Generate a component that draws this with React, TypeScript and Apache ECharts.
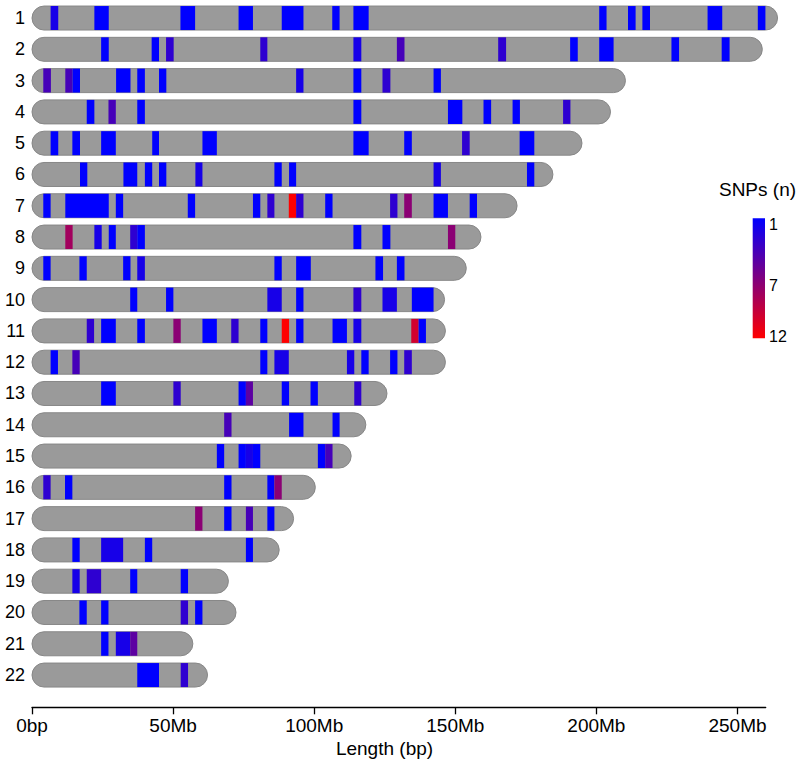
import React, { useEffect, useRef } from "react";
import * as echarts from "echarts";

// ---- data (Mb) ----
const chromosomes = ["1","2","3","4","5","6","7","8","9","10","11","12","13","14","15","16","17","18","19","20","21","22"];
const chromLengths = [264.2, 258.8, 210.3, 205.0, 194.9, 184.6, 171.9, 159.1, 153.9, 146.2, 146.5, 146.5, 125.8, 118.3, 113.1, 100.4, 92.7, 87.6, 69.6, 72.3, 57.0, 62.2];

// [start Mb, end Mb, SNPs (n)]
const chr1Bands = [[6.6,9.3,2],[22.1,27.2,1],[52.6,57.8,1],[73.2,78.3,1],[88.5,96.2,1],[106.4,109.0,1],[113.9,119.3,1],[201.0,203.6,1],[211.2,213.9,1],[216.3,219.0,1],[239.4,244.6,1],[257.2,259.9,1]];
const chr2Bands = [[24.5,27.2,1],[42.4,45.0,1],[47.5,50.2,3],[80.9,83.4,3],[113.9,116.7,2],[129.3,132.0,4],[165.2,168.0,3],[190.7,193.4,1],[201.0,206.1,1],[226.6,229.3,1],[244.4,247.2,1]];
const chr3Bands = [[4.0,6.7,4],[11.8,14.4,4],[14.4,17.0,1],[29.8,34.9,1],[37.3,40.0,1],[45.0,47.6,1],[93.6,96.2,2],[113.9,116.7,1],[124.2,127.0,3],[142.3,144.9,1]];
const chr4Bands = [[19.4,22.1,1],[27.1,29.7,4],[37.3,40.0,1],[113.9,116.7,1],[147.4,152.5,1],[160.0,162.7,1],[170.3,172.9,1],[188.2,190.8,3]];
const chr5Bands = [[6.6,9.3,1],[14.3,17.0,1],[24.5,29.7,1],[42.6,45.0,1],[60.4,65.5,1],[113.9,119.3,1],[131.9,134.6,1],[152.4,155.1,3],[172.8,178.0,1]];
const chr6Bands = [[17.0,19.6,1],[32.4,37.3,1],[40.0,42.6,1],[45.0,47.6,1],[57.9,60.4,2],[85.9,88.5,1],[91.1,93.6,1],[142.3,144.9,2],[175.4,178.0,1]];
const chr7Bands = [[4.0,6.6,1],[11.8,27.2,1],[29.7,32.3,1],[55.2,57.8,1],[78.3,80.9,1],[83.4,85.9,3],[91.0,93.6,12],[93.6,96.2,3],[103.9,106.5,1],[126.9,129.5,3],[131.9,134.6,7],[142.3,147.4,1],[155.1,157.7,1]];
const chr8Bands = [[11.8,14.4,8],[22.1,24.7,2],[27.2,29.7,1],[34.8,37.3,3],[37.3,40.0,1],[113.9,116.7,1],[124.2,127.0,1],[147.4,150.0,7]];
const chr9Bands = [[4.0,6.6,1],[16.8,19.4,1],[32.3,34.9,1],[37.3,40.0,2],[85.9,88.5,1],[93.6,98.8,1],[121.7,124.4,1],[129.3,132.0,1]];
const chr10Bands = [[34.8,37.3,1],[47.5,50.1,1],[83.4,88.5,2],[93.6,96.2,1],[113.9,116.7,3],[124.2,129.3,2],[134.6,142.3,1]];
const chr11Bands = [[19.4,22.0,3],[24.5,29.7,1],[37.3,40.0,1],[50.1,52.7,7],[60.4,65.5,1],[70.6,73.2,3],[80.9,83.4,1],[88.5,91.1,12],[93.6,96.2,1],[106.5,111.6,1],[113.9,116.7,2],[134.4,137.0,10],[137.0,139.6,1]];
const chr12Bands = [[6.6,9.2,1],[14.3,16.9,4],[80.9,83.4,1],[85.9,91.0,2],[111.6,114.2,2],[116.7,119.3,1],[126.9,129.5,1],[131.9,134.6,3]];
const chr13Bands = [[24.5,29.7,1],[50.1,52.7,3],[73.2,75.8,1],[75.8,78.3,5],[88.5,91.1,1],[98.7,101.3,1],[114.2,116.7,3]];
const chr14Bands = [[68.1,70.7,4],[91.1,96.2,1],[106.5,109.0,1]];
const chr15Bands = [[65.5,68.1,1],[73.2,75.8,1],[75.8,78.3,2],[78.3,80.9,1],[101.3,103.9,1],[103.9,106.5,4]];
const chr16Bands = [[4.0,6.6,3],[11.7,14.3,1],[68.1,70.7,1],[83.4,85.9,1],[85.9,88.5,7]];
const chr17Bands = [[57.8,60.4,7],[68.1,70.7,1],[75.8,78.3,4],[83.4,85.9,1]];
const chr18Bands = [[14.3,16.9,1],[24.5,32.3,2],[40.0,42.6,1],[75.8,78.3,1]];
const chr19Bands = [[14.3,16.9,2],[19.4,24.5,3],[34.8,37.3,1],[52.7,55.3,1]];
const chr20Bands = [[16.8,19.4,1],[24.5,27.1,1],[52.7,55.3,3],[57.8,60.4,1]];
const chr21Bands = [[24.5,27.1,1],[29.7,34.8,2],[34.8,37.3,5]];
const chr22Bands = [[37.3,45.0,1],[52.7,55.3,3]];

const allBands = [chr1Bands, chr2Bands, chr3Bands, chr4Bands, chr5Bands, chr6Bands, chr7Bands, chr8Bands, chr9Bands, chr10Bands, chr11Bands, chr12Bands, chr13Bands, chr14Bands, chr15Bands, chr16Bands, chr17Bands, chr18Bands, chr19Bands, chr20Bands, chr21Bands, chr22Bands];

const xTicks = [0, 50, 100, 150, 200, 250];
const snpMin = 1;
const snpMax = 12;
const legendTicks = [1, 7, 12];

const FONT = "'Liberation Sans', Arial, Helvetica, sans-serif";

export default function App() {
  const ref = useRef<HTMLDivElement>(null);
  useEffect(() => {
    document.body.style.margin = "0";
    const chart = echarts.init(ref.current!, null, { renderer: "svg" });

    const bodyData = chromLengths.map((len, i) => [0, len, i]);
    const bandData: number[][] = [];
    allBands.forEach((bands, i) => {
      bands.forEach((b) => bandData.push([b[0], b[1], i, b[2]]));
    });

    const barRatio = 0.767;

    // legend geometry
    const lgX = 752.7, lgY = 218.3, lgW = 12.3, lgH = 120;
    const tickTop = 224, tickBottom = 336.7;
    const legendLabelEls = legendTicks.map((v) => ({
      type: "text",
      x: 769,
      y: tickTop + ((v - snpMin) / (snpMax - snpMin)) * (tickBottom - tickTop),
      style: {
        text: String(v),
        fill: "#000",
        fontSize: 16,
        fontFamily: FONT,
        align: "left",
        textAlign: "left",
        verticalAlign: "middle",
        textVerticalAlign: "middle",
      },
    }));

    const option: any = {
      animation: false,
      backgroundColor: "#fff",
      grid: { left: 32, right: 34.3, top: 2.4, bottom: 73.3, containLabel: false },
      xAxis: {
        type: "value",
        min: 0,
        max: 260,
        interval: 50,
        offset: 16.6,
        axisLine: { show: true, lineStyle: { color: "#000", width: 1.3 } },
        axisTick: { show: true, length: 7, lineStyle: { color: "#000", width: 1.3 } },
        splitLine: { show: false },
        axisLabel: {
          show: true,
          showMaxLabel: false,
          margin: 9,
          fontSize: 19,
          color: "#000",
          fontFamily: FONT,
          formatter: (v: number) => (xTicks.indexOf(v) < 0 ? "" : v === 0 ? "0bp" : v + "Mb"),
        },
      },
      yAxis: {
        type: "category",
        data: chromosomes,
        inverse: true,
        axisLine: { show: false },
        axisTick: { show: false },
        splitLine: { show: false },
        axisLabel: { margin: 7, fontSize: 18, color: "#000", fontFamily: FONT },
      },
      visualMap: {
        show: false,
        type: "continuous",
        min: snpMin,
        max: snpMax,
        dimension: 3,
        seriesIndex: 1,
        inRange: { color: ["#0000ff", "#ff0000"] },
      },
      series: [
        {
          type: "custom",
          name: "chromosome",
          data: bodyData,
          encode: { x: [0, 1], y: 2 },
          clip: false,
          renderItem: (params: any, api: any) => {
            const s = api.coord([api.value(0), api.value(2)]);
            const e = api.coord([api.value(1), api.value(2)]);
            const h = api.size([0, 1])[1] * barRatio;
            return {
              type: "rect",
              shape: { x: s[0], y: s[1] - h / 2, width: e[0] - s[0], height: h, r: h / 2 },
              style: { fill: "#9a9a9a", stroke: "#878787", lineWidth: 1 },
            };
          },
        },
        {
          type: "custom",
          name: "SNPs",
          data: bandData,
          encode: { x: [0, 1], y: 2 },
          clip: false,
          renderItem: (params: any, api: any) => {
            const s = api.coord([api.value(0), api.value(2)]);
            const e = api.coord([api.value(1), api.value(2)]);
            const h = api.size([0, 1])[1] * barRatio;
            return {
              type: "rect",
              shape: { x: s[0], y: s[1] - h / 2, width: e[0] - s[0], height: h },
              style: { fill: api.visual("color") },
            };
          },
        },
      ],
      graphic: [
        {
          type: "text",
          x: 384.5,
          y: 748,
          style: {
            text: "Length (bp)",
            fill: "#000",
            fontSize: 19,
            fontFamily: FONT,
            align: "center",
            textAlign: "center",
            verticalAlign: "middle",
            textVerticalAlign: "middle",
          },
        },
        {
          type: "text",
          x: 757.5,
          y: 189,
          style: {
            text: "SNPs (n)",
            fill: "#000",
            fontSize: 19,
            fontFamily: FONT,
            align: "center",
            textAlign: "center",
            verticalAlign: "middle",
            textVerticalAlign: "middle",
          },
        },
        {
          type: "rect",
          shape: { x: lgX, y: lgY, width: lgW, height: lgH },
          style: {
            fill: {
              type: "linear",
              x: 0, y: 0, x2: 0, y2: 1,
              colorStops: [
                { offset: 0, color: "#0000ff" },
                { offset: 1, color: "#ff0000" },
              ],
            },
          },
        },
        ...legendLabelEls,
      ],
    };

    chart.setOption(option);
    return () => chart.dispose();
  }, []);
  return <div ref={ref} style={{ width: 800, height: 764 }} />;
}
